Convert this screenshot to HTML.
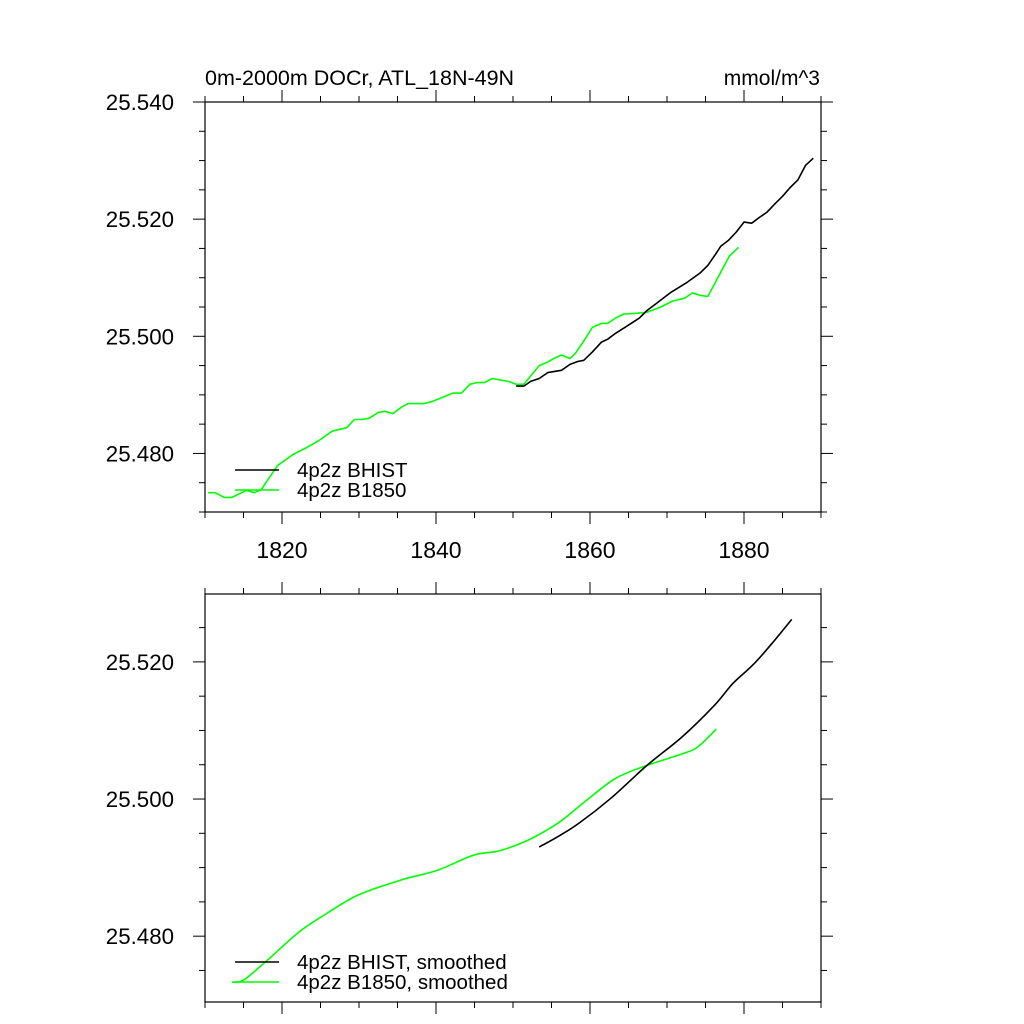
<!DOCTYPE html>
<html><head><meta charset="utf-8"><style>
html,body{margin:0;padding:0;background:#fff}
svg{display:block;font-family:"Liberation Sans",Arial,sans-serif}
</style></head><body>
<svg id="chart" width="1024" height="1024" viewBox="0 0 1024 1024">
<rect width="1024" height="1024" fill="#fff"/>
<text x="205" y="85" font-size="21.5">0m-2000m DOCr, ATL_18N-49N</text>
<text x="820" y="85" font-size="21" text-anchor="end">mmol/m^3</text>
<g id="p1"></g>
<g id="p2"></g>
</svg>
<script>
const rawYears = [1810.4,1811.3,1812.5,1813.5,1815.4,1816.4,1817.3,1819.4,1821.4,1823.2,1824.8,1826.5,1828.4,1829.4,1830.4,1831.3,1832.5,1833.4,1834.4,1835.5,1836.4,1838.4,1839.6,1842.2,1843.3,1844.4,1845.3,1846.3,1847.3,1849.4,1850.4,1851.4,1853.4,1854.5,1855.3,1856.3,1857.4,1858.1,1859.1,1860.3,1861.5,1862.3,1863.3,1864.4,1865.8,1867.4,1869.2,1870.7,1872.3,1873.3,1874.3,1875.3,1878.1,1879.3];
const rawB1850 = [25.4733,25.4733,25.4725,25.4725,25.4737,25.4733,25.4738,25.4779,25.4798,25.4810,25.4822,25.4838,25.4844,25.4858,25.4858,25.4860,25.4870,25.4872,25.4868,25.4879,25.4885,25.4885,25.4889,25.4903,25.4903,25.4918,25.4921,25.4921,25.4928,25.4923,25.4918,25.4918,25.4950,25.4956,25.4962,25.4968,25.4962,25.4971,25.4990,25.5015,25.5022,25.5022,25.5031,25.5038,25.5039,25.5041,25.5050,25.5060,25.5065,25.5074,25.5070,25.5068,25.5137,25.5152];
const histYears = [1850.4,1851.4,1852.3,1853.4,1854.5,1856.3,1857.4,1858.4,1859.2,1860.3,1861.5,1862.3,1863.3,1864.4,1866.4,1867.4,1868.5,1870.5,1872.6,1874.3,1875.3,1876.3,1877,1878,1879,1880,1881,1882,1883,1884,1885,1886,1887,1888,1889];
const rawBHIST = [25.4915,25.4915,25.4923,25.4928,25.4938,25.4942,25.4952,25.4957,25.4959,25.4973,25.4990,25.4995,25.5005,25.5014,25.5031,25.5044,25.5055,25.5075,25.5092,25.5108,25.5121,25.5140,25.5154,25.5164,25.5178,25.5195,25.5193,25.5203,25.5212,25.5226,25.5239,25.5254,25.5267,25.5292,25.5304];
const smB1850Years = [1813.5,1815.0,1818.1,1822.2,1825.8,1829.9,1835.5,1840.2,1844.8,1848.4,1852.5,1856.1,1859.1,1863.3,1867.4,1872.0,1874.0,1876.4];
const smB1850 = [25.4733,25.4736,25.4765,25.4806,25.4833,25.4860,25.4882,25.4896,25.4918,25.4925,25.4943,25.4967,25.4994,25.5030,25.5049,25.5066,25.5076,25.5102];
const smHistYears = [1853.4,1856.1,1858.6,1862.7,1867.4,1872.0,1876.1,1878.6,1881.2,1883.5,1886.2];
const smBHIST = [25.4930,25.4947,25.4965,25.5001,25.5049,25.5091,25.5136,25.5169,25.5196,25.5225,25.5262];
const xTicks = [1820,1840,1860,1880];
const yTicksTop = [25.480,25.500,25.520,25.540];
const yTicksBot = [25.480,25.500,25.520];

const NS='http://www.w3.org/2000/svg';
function mk(parent,tag,attrs){const e=document.createElementNS(NS,tag);for(const k in attrs)e.setAttribute(k,attrs[k]);parent.appendChild(e);return e;}

function smoothPath(pts){
  let d='M'+pts[0][0].toFixed(1)+','+pts[0][1].toFixed(1);
  for(let i=0;i<pts.length-1;i++){
    const p0=pts[Math.max(0,i-1)],p1=pts[i],p2=pts[i+1],p3=pts[Math.min(pts.length-1,i+2)];
    const c1=[p1[0]+(p2[0]-p0[0])/6,p1[1]+(p2[1]-p0[1])/6];
    const c2=[p2[0]-(p3[0]-p1[0])/6,p2[1]-(p3[1]-p1[1])/6];
    d+='C'+c1.map(v=>v.toFixed(1)).join(',')+' '+c2.map(v=>v.toFixed(1)).join(',')+' '+p2[0].toFixed(1)+','+p2[1].toFixed(1);
  }
  return d;
}

function panel(g,top,bot,ymin,ymax,yticks,showXLabels,series,legend){
  const L=205,R=821;
  const sx=v=>L+(v-1810)/(1890-1810)*(R-L);
  const sy=v=>bot-(v-ymin)/(ymax-ymin)*(bot-top);
  const fr=mk(g,'rect',{x:L,y:top,width:R-L,height:bot-top,fill:'none',stroke:'#000','stroke-width':1.2});
  
  
  for(let yr=1810;yr<=1890;yr+=5){
    const maj=yr%20===0, len=maj?12:6, x=sx(yr);
    const t1=mk(g,'line',{x1:x,x2:x,y1:bot,y2:bot+len,stroke:'#000','stroke-width':1});
    
    
    const t2=mk(g,'line',{x1:x,x2:x,y1:top,y2:top-len,stroke:'#000','stroke-width':1});
    
    
  }
  if(showXLabels){
    xTicks.forEach(v=>{
      const t=mk(g,'text',{x:sx(v),y:bot+46,'font-size':23,'text-anchor':'middle'});
      t.textContent=v;
      
      
    });
  }
  for(let v=Math.ceil(ymin/0.005-1e-6)*0.005; v<=ymax+1e-9; v+=0.005){
    const maj=yticks.some(t=>Math.abs(t-v)<1e-6), len=maj?12:6, y=sy(v);
    const a=mk(g,'line',{x1:L,x2:L-len,y1:y,y2:y,stroke:'#000','stroke-width':1});
    
    
    const b=mk(g,'line',{x1:R,x2:R+len,y1:y,y2:y,stroke:'#000','stroke-width':1});
    
    
  }
  yticks.forEach(v=>{
    const t=mk(g,'text',{x:174,y:sy(v)+8,'font-size':22.3,'text-anchor':'end'});
    t.textContent=v.toFixed(3);
    
    
  });
  series.forEach(s=>{
    const pts=s.xs.map((x,i)=>[sx(x),sy(s.ys[i])]);
    const d=s.smooth?smoothPath(pts):pts.map((p,i)=>(i?'L':'M')+p[0].toFixed(1)+','+p[1].toFixed(1)).join('');
    const p=mk(g,'path',{d:d,fill:'none',stroke:s.color,'stroke-width':1.6,'stroke-linejoin':'round'});
    
    
  });
  legend.forEach((it,i)=>{
    const y=legend.y0+i*20;
    const l=mk(g,'line',{x1:235,x2:279,y1:y,y2:y,stroke:it.color,'stroke-width':1.6});
    
    
    const t=mk(g,'text',{x:297,y:y+7,'font-size':20.5});
    t.textContent=it.label;
    
    
  });
}
const lg1=[{color:'#000',label:'4p2z BHIST'},{color:'#00ff00',label:'4p2z B1850'}]; lg1.y0=470;
panel(document.getElementById('p1'),102,512,25.470,25.540,yTicksTop,true,
  [{xs:rawYears,ys:rawB1850,color:'#00ff00',name:'line-b1850'},{xs:histYears,ys:rawBHIST,color:'#000',name:'line-bhist'}],lg1);
const lg2=[{color:'#000',label:'4p2z BHIST, smoothed'},{color:'#00ff00',label:'4p2z B1850, smoothed'}]; lg2.y0=962;
panel(document.getElementById('p2'),594,1002,25.4704,25.5299,yTicksBot,false,
  [{xs:smB1850Years,ys:smB1850,color:'#00ff00',name:'line-b1850-smoothed',smooth:true},{xs:smHistYears,ys:smBHIST,color:'#000',name:'line-bhist-smoothed',smooth:true}],lg2);
</script>
</body></html>
